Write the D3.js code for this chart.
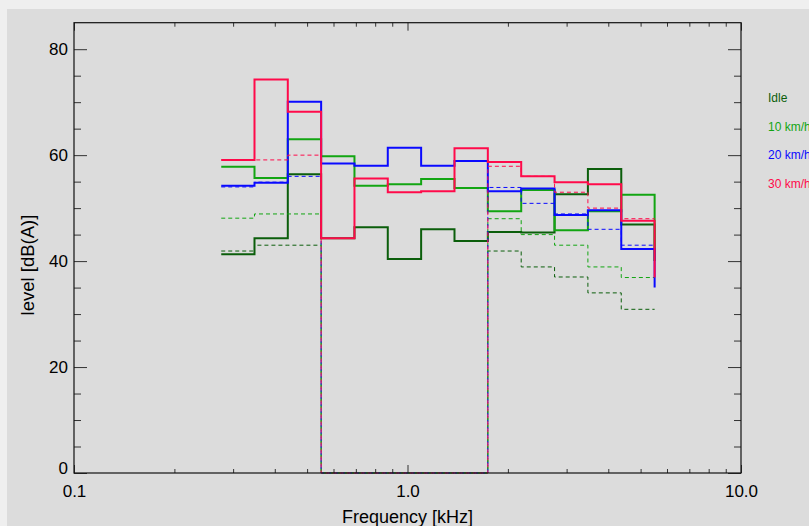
<!DOCTYPE html>
<html>
<head>
<meta charset="utf-8">
<script src="https://cdn.jsdelivr.net/npm/d3@7"></script>
<style>
  html, body { margin: 0; padding: 0; background: #efefef; }
  svg { display: block; font-family: "Liberation Sans", Arial, sans-serif; }
</style>
</head>
<body>
<div id="chart"></div>
<script>
// third-octave band centres [kHz], as drawn
const bandCenters = [0.31, 0.39, 0.491, 0.618, 0.778, 0.979, 1.233, 1.552, 1.954, 2.46, 3.097, 3.899, 4.909];

// solid lines
const idleLevel = [41.3, 44.3, 56.4, 44.3, 46.4, 40.4, 46.0, 43.8, 45.5, 45.4, 52.6, 57.4, 46.9];
const kmh10Level = [57.8, 55.7, 63.0, 59.8, 54.2, 54.5, 55.5, 53.8, 49.4, 53.4, 45.8, 49.4, 52.5];
const kmh20Level = [54.2, 54.8, 70.1, 58.4, 58.0, 61.4, 58.0, 58.9, 53.2, 53.7, 48.7, 49.6, 42.3];
const kmh30Level = [59.1, 74.3, 68.2, 44.3, 55.6, 53.0, 53.2, 61.3, 58.7, 56.0, 54.9, 54.5, 47.6];
// value the solid lines drop to at the right end
const endDrop = [40, 40, 35.0, 36.9];

// dashed lines
const idleRef = [41.9, 43.0, 43.0, 0, 0, 0, 0, 0, 41.9, 38.9, 37.0, 34.0, 30.9];
const kmh10Ref = [48.1, 48.9, 48.9, 0, 0, 0, 0, 0, 48.0, 45.0, 43.0, 38.9, 36.9];
const kmh20Ref = [54.0, 54.9, 56.0, 0, 0, 0, 0, 0, 53.9, 50.9, 48.9, 46.0, 43.0];
const kmh30Ref = [59.1, 59.1, 60.0, 0, 0, 0, 0, 0, 57.9, 56.0, 53.0, 50.0, 48.0];

const seriesNames = ["Idle", "10 km/h", "20 km/h", "30 km/h"];
const seriesColors = ["#0b5e0b", "#12a512", "#0a0aff", "#ff0a4a"];

const width = 809, height = 526;
const margin = {top: 22.7, right: 68, bottom: 53, left: 74};
const innerWidth = width - margin.left - margin.right;
const innerHeight = height - margin.top - margin.bottom;

const svg = d3.select("#chart").append("svg")
    .attr("width", width)
    .attr("height", height);

// grey window area
svg.append("rect")
    .attr("x", 7).attr("y", 9)
    .attr("width", width - 7).attr("height", height - 9)
    .attr("fill", "#dcdcdc");

const chart = svg.append("g")
    .attr("transform", `translate(${margin.left}, ${margin.top})`);

const x = d3.scaleLog().domain([0.1, 10]).range([0, innerWidth]);
const y = d3.scaleLinear().domain([0, 85]).range([innerHeight, 0]);

// band edges: geometric midpoints between centres
const logC = bandCenters.map(Math.log10);
const edges = [logC[0] - (logC[1] - logC[0]) / 2];
for (let i = 1; i < logC.length; i++) edges.push((logC[i - 1] + logC[i]) / 2);
edges.push(logC[logC.length - 1] + (logC[logC.length - 1] - logC[logC.length - 2]) / 2);
const edgeF = edges.map(l => Math.pow(10, l));

function stepPoints(vals, tail) {
    const pts = vals.map((v, i) => [edgeF[i], v]);
    pts.push([edgeF[vals.length], tail == null ? vals[vals.length - 1] : tail]);
    return pts;
}

const line = d3.line()
    .x(d => x(d[0]))
    .y(d => y(d[1]))
    .curve(d3.curveStepAfter);

const solids = [idleLevel, kmh10Level, kmh20Level, kmh30Level];
const dashes = [idleRef, kmh10Ref, kmh20Ref, kmh30Ref];

solids.forEach((vals, i) => {
    chart.append("path")
        .datum(stepPoints(vals, endDrop[i]))
        .attr("d", line)
        .style("fill", "none")
        .style("stroke", seriesColors[i])
        .style("stroke-width", 2);
    chart.append("path")
        .datum(stepPoints(dashes[i], null))
        .attr("d", line)
        .style("fill", "none")
        .style("stroke", seriesColors[i])
        .style("stroke-width", 1)
        .style("stroke-dasharray", "4,3");
});

// ========= Axes (ticks pointing inward)
const xMajor = [0.1, 1, 10];
const xMinor = [];
[0.1, 1].forEach(dec => { for (let k = 2; k <= 9; k++) xMinor.push(dec * k); });
const yMajor = [0, 20, 40, 60, 80];
const yMinor = d3.range(5, 85, 5).filter(v => v % 20 !== 0);

function styleAxis(g) {
    g.select(".domain").remove();
    g.selectAll("line").attr("stroke", "#333");
    g.selectAll("text").style("font-size", "17px").attr("fill", "#000");
}

chart.append("g")
    .attr("transform", `translate(0, ${innerHeight})`)
    .call(d3.axisBottom(x).tickValues(xMajor).tickSize(-8).tickPadding(12)
        .tickFormat(d => d.toFixed(1)))
    .call(styleAxis);
chart.append("g")
    .attr("transform", `translate(0, ${innerHeight})`)
    .call(d3.axisBottom(x).tickValues(xMinor).tickSize(-4).tickFormat(""))
    .call(styleAxis);
chart.append("g")
    .call(d3.axisTop(x).tickValues(xMajor).tickSize(-8).tickFormat(""))
    .call(styleAxis);
chart.append("g")
    .call(d3.axisTop(x).tickValues(xMinor).tickSize(-4).tickFormat(""))
    .call(styleAxis);

const yAxisG = chart.append("g")
    .call(d3.axisLeft(y).tickValues(yMajor).tickSize(-13).tickPadding(6).tickFormat(d3.format("d")))
    .call(styleAxis);
// the zero label sits a little higher in the original
yAxisG.selectAll(".tick text").filter(d => d === 0).attr("dy", "0.0em");

chart.append("g")
    .call(d3.axisLeft(y).tickValues(yMinor).tickSize(-7).tickFormat(""))
    .call(styleAxis);
chart.append("g")
    .attr("transform", `translate(${innerWidth}, 0)`)
    .call(d3.axisRight(y).tickValues(yMajor).tickSize(-13).tickFormat(""))
    .call(styleAxis);
chart.append("g")
    .attr("transform", `translate(${innerWidth}, 0)`)
    .call(d3.axisRight(y).tickValues(yMinor).tickSize(-7).tickFormat(""))
    .call(styleAxis);

// frame
chart.append("rect")
    .attr("width", innerWidth)
    .attr("height", innerHeight)
    .style("fill", "none")
    .style("stroke", "#111")
    .style("stroke-width", 1.2);

// axis titles
svg.append("text")
    .attr("transform", `translate(34, 265) rotate(-90)`)
    .attr("text-anchor", "middle")
    .style("font-size", "18.5px")
    .text("level [dB(A)]");

svg.append("text")
    .attr("x", margin.left + innerWidth / 2)
    .attr("y", 523)
    .attr("text-anchor", "middle")
    .style("font-size", "18px")
    .text("Frequency [kHz]");

// legend
seriesNames.forEach((name, i) => {
    svg.append("text")
        .attr("x", 768)
        .attr("y", 102 + i * 28.7)
        .style("font-size", "12px")
        .style("fill", seriesColors[i])
        .text(name);
});
</script>
</body>
</html>
